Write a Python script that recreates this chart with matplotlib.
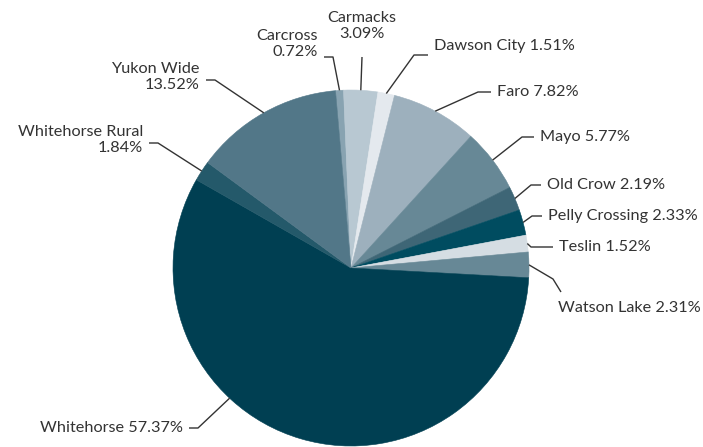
import numpy as np
import matplotlib.pyplot as plt

# Share of total by community (%)
communities = ['Carcross', 'Carmacks', 'Dawson City', 'Faro', 'Mayo', 'Old Crow',
               'Pelly Crossing', 'Teslin', 'Watson Lake', 'Whitehorse',
               'Whitehorse Rural', 'Yukon Wide']
shares = [0.72, 3.09, 1.51, 7.82, 5.77, 2.19, 2.33, 1.52, 2.31, 57.37, 1.84, 13.52]
colors = ['#88a3b1', '#b8c8d2', '#e4e9ee', '#9db0bd', '#678896', '#3e6676',
          '#004c60', '#d5dde3', '#678896', '#003f52', '#24596a', '#527788']

# label layout in pixel coords: text x, text y, ha, elbow x, elbow y
label_layout = {
    'Carcross':         (318, 44, 'right', 333, 57),
    'Carmacks':         (362, 26, 'center', 362, 57),
    'Dawson City':      (434, 46, 'left', 414, 55),
    'Faro':             (497, 92, 'left', 478, 92),
    'Mayo':             (540, 137, 'left', 522, 137),
    'Old Crow':         (547, 185, 'left', 531, 185),
    'Pelly Crossing':   (548, 216, 'left', 532, 216),
    'Teslin':           (559, 247, 'left', 531, 247),
    'Watson Lake':      (558, 308, 'left', 553, 279),
    'Whitehorse':       (183, 428, 'right', 198, 428),
    'Whitehorse Rural': (143, 140, 'right', 158, 143),
    'Yukon Wide':       (200, 77, 'right', 215, 80),
}
two_line = {'Carcross', 'Carmacks', 'Whitehorse Rural', 'Yukon Wide'}
# connector anchor angle overrides (degrees, matplotlib convention)
anchor_override = {'Whitehorse': 227}

W, H = 703, 447
cx, cy, r = 351, 268, 178

plt.rcParams['font.family'] = ['Lato', 'DejaVu Sans']
fig = plt.figure(figsize=(W / 100, H / 100), dpi=100)
ax = fig.add_axes([0, 0, 1, 1])


def flip(y):
    return H - y


wedges, _ = ax.pie(shares, colors=colors, startangle=95, counterclock=False,
                   center=(cx, flip(cy)), radius=r, frame=True,
                   wedgeprops=dict(linewidth=0.4))
for w, c in zip(wedges, colors):
    w.set_edgecolor(c)
ax.set_xlim(0, W)
ax.set_ylim(0, H)
ax.set_aspect('equal')
ax.axis('off')

for w, name, val in zip(wedges, communities, shares):
    tx, ty, ha, ex, ey = label_layout[name]
    ang = anchor_override.get(name, (w.theta1 + w.theta2) / 2)
    mid = np.deg2rad(ang)
    px = cx + r * np.cos(mid)
    py = flip(cy) + r * np.sin(mid)
    if name in two_line:
        txt = f'{name}\n{val:.2f}%'
    else:
        txt = f'{name} {val:.2f}%'
    if ha == 'left':
        end_x = tx - 6
    elif ha == 'right':
        end_x = tx + 6
    else:
        end_x = ex
    xs = [px, ex, end_x]
    ys = [py, flip(ey), flip(ey)]
    if name == 'Watson Lake':
        xs = [px, ex, 561]
        ys = [py, flip(ey), flip(292)]
    ax.plot(xs, ys, color='#333333', lw=1, solid_capstyle='butt')
    ax.text(tx, flip(ty), txt, ha=ha, va='center', fontsize=11.7,
            color='#333333', linespacing=1.15, multialignment=ha)

fig.savefig('out.png', dpi=100)
